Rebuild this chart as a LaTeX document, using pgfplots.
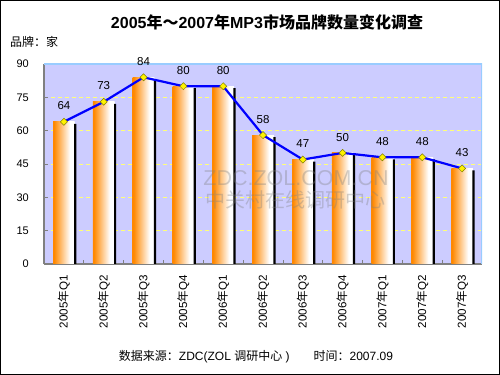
\documentclass[border=0pt]{standalone}
\usepackage{pgfplots}
\pgfplotsset{compat=1.18}
\usepackage{fontspec}
\setmainfont{Liberation Sans}
\newfontfamily\cjk{Noto Sans CJK SC}
\newcommand\zh[1]{{\cjk #1}}
\newcommand\fs[1]{\fontsize{#1bp}{#1bp}\selectfont}
\definecolor{bgc}{RGB}{204,204,255}
\definecolor{barorange}{RGB}{255,136,0}
\definecolor{gridy}{RGB}{255,255,120}
\definecolor{topline}{RGB}{153,204,255}
\definecolor{axgray}{RGB}{128,128,128}
\definecolor{mkedge}{RGB}{130,130,0}
\pgfdeclarehorizontalshading{barshade}{100bp}{color(0bp)=(barorange); color(27bp)=(barorange); color(64bp)=(white); color(100bp)=(white)}
\pgfplotstableread{
x y
0 64
1 73
2 84
3 80
4 80
5 58
6 47
7 50
8 48
9 48
10 43
}\brands
\begin{document}
\begin{tikzpicture}
\draw[black, line width=1.4bp] (0.7bp,0.7bp) rectangle (499.3bp,374.3bp);
\node[font=\fs{16}\bfseries] at (267bp,353bp) {2005\zh{年～}2007\zh{年}MP3\zh{市场品牌数量变化调查}};
\node[font=\fs{12}, anchor=west, inner sep=0pt] at (10bp,333bp) {\zh{品牌：家}};
\node[font=\fs{12}] at (256bp,18bp) {\zh{数据来源：}ZDC(ZOL \zh{调研中心} )\quad\quad\zh{时间：}2007.09};
\begin{axis}[
  at={(44bp,111bp)}, anchor=south west, scale only axis,
  width=438bp, height=200bp,
  xmin=-0.5, xmax=10.5, ymin=0, ymax=90,
  ytick={0,15,...,90},
  xtick={0,...,10},
  minor xtick={0.5,1.5,...,9.5},
  xticklabels={2005\zh{年}Q1,2005\zh{年}Q2,2005\zh{年}Q3,2005\zh{年}Q4,2006\zh{年}Q1,2006\zh{年}Q2,2006\zh{年}Q3,2006\zh{年}Q4,2007\zh{年}Q1,2007\zh{年}Q2,2007\zh{年}Q3},
  /pgf/number format/assume math mode=true,
  axis background/.style={fill=bgc},
  axis x line*=bottom, axis y line*=left,
  axis line style={draw=axgray, line width=1.3bp},
  tick align=inside,
  major x tick style={draw=none},
  minor x tick style={draw=axgray, line width=0.8bp},
  major y tick style={draw=axgray, line width=0.8bp},
  major tick length=3.5bp, minor tick length=3.5bp,
  ymajorgrids,
  grid style={draw=gridy, dash pattern=on 4bp off 3bp, line width=0.8bp},
  xticklabel style={rotate=90, anchor=east, inner sep=0pt, font=\fs{11.6}},
  yticklabel style={anchor=east, inner sep=0pt, font=\fs{11}},
  xticklabel shift=11bp,
  yticklabel shift=15bp,
]
\pgfplotsinvokeforeach{0,...,10}{
\addplot[ybar, bar width=21.6bp, bar shift=0bp, draw=none, shading=barshade, restrict x to domain=#1:#1] table[x=x,y=y]{\brands};
}
\addplot[ybar, bar width=2.2bp, bar shift=11.4bp, draw=none, fill=black, yshift=-2bp] table[x=x,y=y]{\brands};
\addplot[blue, line width=2.2bp, mark=square*, mark size=2.5bp,
  mark options={rotate=45, fill=yellow, draw=mkedge, line width=0.5bp},
  nodes near coords,
  every node near coord/.append style={font=\fs{11.5}, text=black, anchor=south, inner sep=0pt, yshift=11.5bp}]
  table[x=x,y=y]{\brands};
\draw[topline, line width=1.3bp] (rel axis cs:0,1) -- (rel axis cs:1,1) -- (rel axis cs:1,0);
\end{axis}
\node[font=\fs{21.5}, text=gray, opacity=0.35, inner sep=0pt, anchor=base] at (296bp,189.5bp) {ZDC.ZOL.COM.CN};
\node[font=\fs{20}, text=gray, opacity=0.35, inner sep=0pt] at (295bp,175bp) {\zh{中关村在线调研中心}};
\end{tikzpicture}
\end{document}
